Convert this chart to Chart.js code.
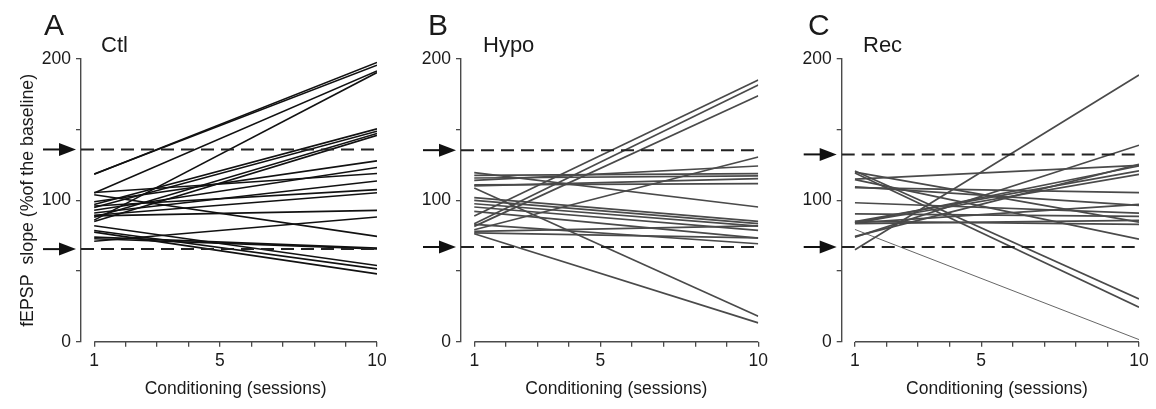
<!DOCTYPE html>
<html>
<head>
<meta charset="utf-8">
<script src="https://cdn.jsdelivr.net/npm/chart.js@4.4.1/dist/chart.umd.min.js"></script>
<style>
  html, body { margin: 0; padding: 0; background: #fff; }
  body { width: 1156px; height: 409px; position: relative; overflow: hidden;
         font-family: "Liberation Sans", Arial, sans-serif; color: #1a1a1a; }
  .panel { position: absolute; top: 0; height: 409px; }
  .letter { position: absolute; top: 10px; font-size: 30px; line-height: 1; }
  .group { position: absolute; top: 34px; font-size: 22px; line-height: 1; }
</style>
</head>
<body>
<div class="panel" style="left:0;width:392px"><canvas id="chart-ctl"></canvas></div>
<div class="panel" style="left:390px;width:382px"><canvas id="chart-hypo"></canvas></div>
<div class="panel" style="left:772px;width:384px"><canvas id="chart-rec"></canvas></div>
<div class="letter" style="left:44px">A</div>
<div class="group" style="left:101px">Ctl</div>
<div class="letter" style="left:428px">B</div>
<div class="group" style="left:483px">Hypo</div>
<div class="letter" style="left:808px">C</div>
<div class="group" style="left:863px">Rec</div>
<script>
(function () {
  // sessions where each slice was measured
  var SESSIONS = [1, 10];
  var X_TICKS = [1, 2, 3, 4, 5, 6, 7, 8, 9, 10];
  var X_LABELS = [1, 5, 10];
  var Y_LABELS = [0, 100, 200];

  // Ctl: fEPSP slope (% of baseline) at session 1 and session 10
  var CTL_START = [118.4, 118.6, 105.2, 86, 97, 95, 88, 85, 99, 93, 105.5, 91, 96, 89.5, 89, 71.1, 104, 72.8, 74, 82, 78.7, 77.5];
  var CTL_END = [197.6, 195.6, 191.6, 190.4, 150.6, 148.9, 147.3, 146, 127.9, 123.2, 119, 113.7, 107.6, 105.4, 92.9, 88.2, 74.5, 65.7, 66.2, 53.9, 51.5, 48];
  var CTL_LIMITS = [136, 65.5];

  // Hypo
  var HYPO_START = [89, 83.5, 81.6, 79.2, 119.6, 117.7, 115.8, 114.2, 110.2, 111, 108.7, 101.9, 100, 97.6, 95.3, 92.2, 83, 78, 76.4, 77];
  var HYPO_END = [185.1, 181.6, 174, 130.7, 95.3, 118.9, 117.3, 124.3, 115.4, 111.8, 18, 85.1, 83.5, 81.8, 78.7, 73.3, 69.3, 82, 13.3, 73.5];
  var HYPO_LIMITS = [135.5, 67];

  // Rec (last pair is the thin line)
  var REC_START = [65, 120.8, 119.4, 74, 74.5, 83.9, 85, 115, 84, 109, 109.5, 98.3, 90.5, 114.7, 85.1, 83.5, 84, 120];
  var REC_END = [188.7, 30.3, 24.4, 139, 125.5, 124.3, 120.8, 124.8, 118.4, 105.4, 96.5, 91, 88.7, 72.6, 83, 85.8, 97.2, 84.6];
  var REC_THIN_START = [79.4];
  var REC_THIN_END = [1.5];
  var REC_LIMITS = [132.5, 67];

  var X_MIN = 0.58;
  var FONT = '"Liberation Sans", Arial, sans-serif';
  var AXIS_COLOR = '#4a4a4a';
  var TEXT_COLOR = '#1a1a1a';

  function pairLines(starts, ends, color, width) {
    return starts.map(function (s, i) {
      return {
        data: [{ x: SESSIONS[0], y: s }, { x: SESSIONS[1], y: ends[i] }],
        borderColor: color,
        borderWidth: width,
        pointRadius: 0,
        fill: false
      };
    });
  }

  function limitLines(limits) {
    return limits.map(function (v) {
      return {
        data: [{ x: X_MIN, y: v }, { x: SESSIONS[1], y: v }],
        borderColor: '#222',
        borderWidth: 2,
        borderDash: [13, 7],
        pointRadius: 0,
        fill: false
      };
    });
  }

  var decorPlugin = {
    id: 'decor',
    afterDraw: function (chart, args, opts) {
      var ctx = chart.ctx;
      var xs = chart.scales.x;
      var ys = chart.scales.y;
      var y0 = ys.getPixelForValue(0);
      var x1 = xs.getPixelForValue(SESSIONS[0]);
      var x10 = xs.getPixelForValue(SESSIONS[1]);
      ctx.save();
      ctx.strokeStyle = AXIS_COLOR;
      ctx.lineWidth = 1.4;
      ctx.beginPath();
      ctx.moveTo(x1, y0);
      ctx.lineTo(x10, y0);
      ctx.stroke();

      var ax = chart.chartArea.left;
      (opts.limits || []).forEach(function (v) {
        var py = ys.getPixelForValue(v);
        ctx.strokeStyle = '#111';
        ctx.fillStyle = '#111';
        ctx.lineWidth = 2;
        ctx.beginPath();
        ctx.moveTo(ax - 38, py);
        ctx.lineTo(ax - 20, py);
        ctx.stroke();
        ctx.beginPath();
        ctx.moveTo(ax - 22, py - 6.5);
        ctx.lineTo(ax - 5, py);
        ctx.lineTo(ax - 22, py + 6.5);
        ctx.closePath();
        ctx.fill();
      });

      ctx.fillStyle = TEXT_COLOR;
      ctx.font = '17.5px ' + FONT;
      ctx.textAlign = 'center';
      ctx.textBaseline = 'middle';
      ctx.fillText('Conditioning (sessions)', (x1 + x10) / 2, 389);
      ctx.restore();
    }
  };

  function makeChart(id, datasets, limits, axisX, padRight, showTitle) {
    return new Chart(document.getElementById(id), {
      type: 'line',
      data: { datasets: limitLines(limits).concat(datasets) },
      plugins: [decorPlugin],
      options: {
        responsive: true,
        maintainAspectRatio: false,
        animation: false,
        layout: { padding: { left: 0, top: 59, right: padRight, bottom: 0 } },
        plugins: {
          legend: { display: false },
          tooltip: { enabled: false },
          decor: { limits: limits }
        },
        scales: {
          x: {
            type: 'linear',
            min: X_MIN,
            max: 10,
            afterBuildTicks: function (scale) {
              scale.ticks = X_TICKS.map(function (v) { return { value: v }; });
            },
            afterFit: function (scale) { scale.height = 67.3; },
            border: { display: false },
            grid: { display: true, drawOnChartArea: false, drawTicks: true, tickLength: 5, color: AXIS_COLOR, lineWidth: 1.3 },
            ticks: {
              autoSkip: false,
              maxRotation: 0,
              padding: 4,
              color: TEXT_COLOR,
              font: { family: FONT, size: 17.5 },
              callback: function (v) { return X_LABELS.indexOf(v) >= 0 ? String(v) : ''; }
            }
          },
          y: {
            min: 0,
            max: 200,
            afterFit: function (scale) { scale.width = axisX; },
            border: { display: true, color: AXIS_COLOR, width: 1.4 },
            grid: { display: true, drawOnChartArea: false, drawTicks: true, tickLength: 5, color: AXIS_COLOR, lineWidth: 1.3 },
            ticks: {
              stepSize: 50,
              padding: 5,
              color: TEXT_COLOR,
              font: { family: FONT, size: 17.5 },
              callback: function (v) { return Y_LABELS.indexOf(v) >= 0 ? String(v) : ''; }
            },
            title: {
              display: showTitle,
              text: 'fEPSP  slope (%of the baseline)',
              color: TEXT_COLOR,
              font: { family: FONT, size: 17.8 },
              padding: { top: 17, bottom: 0 }
            }
          }
        }
      }
    });
  }

  makeChart('chart-ctl', pairLines(CTL_START, CTL_END, '#111', 1.6), CTL_LIMITS, 81, 15, true);
  makeChart('chart-hypo', pairLines(HYPO_START, HYPO_END, '#4a4a4a', 1.7), HYPO_LIMITS, 71, 13.7, false);
  makeChart('chart-rec',
    pairLines(REC_START, REC_END, '#4a4a4a', 1.7).concat(pairLines(REC_THIN_START, REC_THIN_END, '#666', 1)),
    REC_LIMITS, 69.7, 17, false);
})();
</script>
</body>
</html>
